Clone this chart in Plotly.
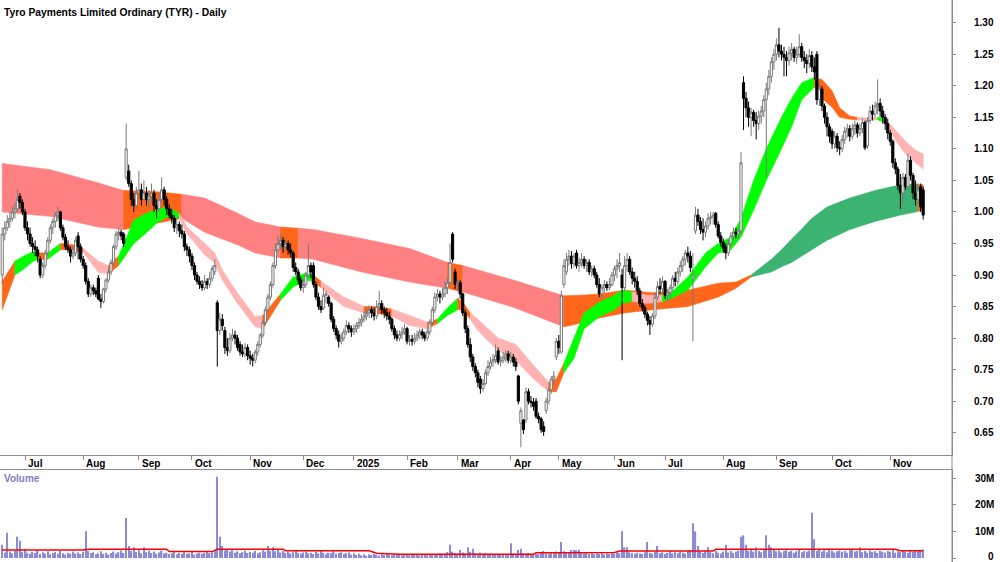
import pandas as pd
import plotly.graph_objects as go

# ---------------- data ----------------
holidays = ["2024-12-25", "2024-12-26", "2025-01-01", "2025-01-27",
            "2025-04-18", "2025-04-21", "2025-04-25", "2025-06-09"]
dates = pd.bdate_range("2024-06-18", "2025-11-20", freq="C", holidays=holidays)

opens = [
 .900,.965,.975,.985,.990,1.000,1.005,1.025,1.015,1.000,
 .975,.965,.950,.945,.940,.925,.900,.915,.935,.955,
 .975,.985,.995,1.000,.975,.960,.945,.940,.930,
 .935,.962,.945,.925,.915,.890,.870,.880,.875,.895,
 .862,.858,.878,.892,.905,.920,.945,.965,.968,.965,
 1.055,1.065,1.045,1.020,1.010,1.030,1.035,1.020,1.030,1.020,
 1.025,1.030,1.010,1.005,1.020,1.035,1.020,1.005,.995,.990,
 .975,.980,.970,
 .965,.945,.940,.930,.915,.900,
 .890,.885,.880,.890,.885,.895,.905,.856,.812,.830,
 .812,.785,.780,.800,.805,.800,.790,.778,.775,.785,
 .772,.768,.765,.778,.790,.805,.825,.845,.865,.885,
 .915,.940,.950,.955,.945,.950,
 .940,.935,.912,
 .905,.892,.880,.885,.900,.915,.915,.885,.865,.850,
 .848,.868,.865,.855,.830,.815,.805,.795,.800,.810,
 .820,.815,.810,.815,.820,.825,.830,.835,.840,.845,
 .840,.835,.850,.855,.845,.840,.835,.830,.815,.805,
 .800,.806,.810,.815,.795,.798,.795,.800,.805,
 .810,.805,.800,.810,.825,.845,.865,.870,.865,.870,
 .880,.888,.965,.905,.885,.888,.870,.840,.815,.790,
 .770,.755,.745,.735,.720,.728,.745,.755,.762,.766,
 .780,.762,
 .765,.770,.775,.765,.770,.762,.740,
 .665,.670,.670,.715,.700,.698,.700,.676,.672,.660,
 .685,.700,.718,.735,.770,.795,.778,.885,.905,.925,
 .930,.918,.935,.915,.920,.925,.915,.920,.905,.910,
 .900,.885,.870,.880,.885,
 .880,.885,.900,.910,
 .915,.900,.880,.915,.925,.905,.895,.890,.875,.855,
 .848,.838,.828,.822,.835,.865,.882,.878,.890,.868,
 .872,.880,.895,.890,.905,.915,.925,.935,.930,.895,
 .970,.995,.985,.972,.968,.978,.990,
 .992,.998,
 .980,.962,.952,.945,.935,.950,.962,.968,.965,.970,
 1.205,1.180,1.165,1.150,1.158,1.145,1.140,1.152,1.160,1.178,
 1.195,1.215,1.238,1.250,1.265,1.255,1.250,1.245,1.240,1.252,
 1.258,1.245,1.250,1.262,1.245,1.240,1.235,1.248,1.230,1.250,
 1.178,1.195,1.168,1.150,1.135,
 1.128,1.108,1.120,1.102,
 1.100,1.115,1.128,1.132,1.120,1.132,1.138,1.125,1.132,1.142,
 1.105,1.145,1.160,1.155,1.168,1.172,1.160,1.150,1.140,1.125,
 1.112,1.078,1.068,1.042,
 1.030,1.055,1.040,1.082,1.058,1.030,1.020,1.040,1.035]

highs = [
 .975,.985,.995,1.000,1.010,1.015,1.036,1.030,1.020,1.005,
 .985,.975,.960,.955,.945,.930,.920,.940,.960,.980,
 .990,1.000,1.008,1.002,.980,.965,.955,.945,.945,
 .960,.968,.950,.930,.920,.895,.885,.885,.880,.900,
 .870,.880,.895,.910,.925,.948,.970,.975,.972,.968,
 1.140,1.075,1.050,1.030,1.040,1.065,1.045,1.050,1.040,1.035,
 1.045,1.035,1.020,1.030,1.055,1.040,1.025,1.012,1.005,.995,
 .990,.985,.980,
 .970,.950,.945,.935,.920,.905,
 .898,.892,.900,.895,.905,.915,.925,.860,.840,.838,
 .818,.800,.808,.815,.812,.805,.795,.790,.792,.790,
 .780,.775,.782,.795,.808,.830,.850,.870,.890,.920,
 .950,.962,.965,.960,.958,.955,
 .950,.938,.920,
 .910,.898,.895,.905,.950,.920,.920,.890,.872,.860,
 .880,.875,.868,.858,.835,.820,.812,.808,.815,.828,
 .825,.820,.822,.825,.832,.838,.842,.848,.852,.850,
 .848,.860,.875,.860,.850,.848,.842,.833,.820,.812,
 .812,.818,.822,.818,.805,.805,.808,.812,.815,
 .815,.810,.815,.830,.850,.872,.878,.875,.880,.890,
 .895,.950,.968,.910,.895,.892,.872,.845,.820,.800,
 .775,.760,.750,.740,.735,.750,.765,.770,.775,.790,
 .785,.772,
 .778,.780,.780,.778,.775,.768,.742,
 .690,.672,.722,.720,.708,.705,.705,.682,.675,.668,
 .705,.722,.740,.748,.800,.805,.875,.925,.935,.940,
 .938,.935,.940,.928,.935,.930,.925,.925,.915,.915,
 .905,.895,.885,.892,.890,
 .895,.905,.915,.925,
 .935,.910,.930,.935,.930,.912,.905,.898,.880,.862,
 .852,.842,.835,.840,.872,.890,.895,.898,.892,.878,
 .885,.900,.905,.912,.922,.930,.940,.945,.938,.935,
 1.008,1.005,.992,.990,.985,.998,1.000,
 1.000,1.000,
 .985,.968,.958,.950,.955,.968,.975,.975,.975,1.095,
 1.215,1.190,1.175,1.165,1.162,1.158,1.160,1.168,1.185,1.205,
 1.225,1.245,1.258,1.275,1.292,1.265,1.262,1.255,1.262,1.268,
 1.262,1.262,1.282,1.268,1.255,1.250,1.258,1.255,1.245,1.255,
 1.205,1.200,1.172,1.158,1.140,
 1.132,1.128,1.125,1.112,
 1.122,1.135,1.140,1.138,1.140,1.145,1.142,1.140,1.148,1.145,
 1.150,1.168,1.170,1.175,1.210,1.180,1.168,1.155,1.148,1.130,
 1.115,1.085,1.072,1.060,
 1.062,1.060,1.092,1.088,1.062,1.050,1.045,1.045,1.040]

lows = [
 .885,.955,.970,.975,.985,.990,1.000,1.005,.995,.970,
 .955,.945,.935,.930,.920,.895,.895,.910,.930,.950,
 .965,.975,.985,.970,.955,.940,.935,.920,.925,
 .930,.925,.920,.910,.885,.865,.865,.868,.865,.860,
 .848,.855,.872,.888,.900,.915,.940,.955,.955,.945,
 1.050,1.040,1.010,1.000,1.005,1.025,1.010,1.015,1.010,1.005,
 1.015,1.000,.990,1.000,1.015,1.010,.995,.990,.982,.968,
 .965,.960,.958,
 .938,.930,.920,.908,.892,.885,
 .878,.875,.876,.878,.880,.890,.900,.755,.805,.812,
 .775,.772,.776,.795,.790,.780,.772,.770,.770,.765,
 .758,.755,.760,.772,.785,.800,.820,.840,.860,.880,
 .910,.935,.940,.935,.938,.932,
 .928,.905,.900,
 .885,.875,.872,.880,.895,.895,.880,.860,.845,.840,
 .845,.855,.850,.825,.810,.798,.785,.790,.795,.805,
 .808,.802,.805,.808,.815,.818,.825,.828,.832,.832,
 .828,.830,.845,.838,.832,.828,.822,.810,.798,.795,
 .795,.798,.805,.790,.788,.788,.790,.795,.798,
 .798,.795,.796,.805,.820,.840,.858,.855,.860,.865,
 .870,.885,.920,.878,.875,.862,.835,.808,.785,.762,
 .748,.738,.722,.712,.715,.725,.740,.750,.755,.760,
 .758,.755,
 .760,.762,.760,.760,.755,.748,.695,
 .627,.648,.665,.695,.690,.685,.672,.665,.650,.645,
 .680,.695,.712,.725,.765,.775,.775,.880,.900,.915,
 .910,.912,.910,.905,.912,.910,.905,.900,.898,.895,
 .880,.865,.862,.872,.875,
 .876,.882,.890,.895,
 .905,.765,.875,.905,.900,.885,.880,.868,.850,.842,
 .832,.820,.805,.818,.830,.860,.870,.872,.862,.858,
 .862,.875,.882,.885,.898,.905,.915,.920,.905,.795,
 .965,.978,.965,.955,.960,.972,.980,
 .980,.975,
 .958,.945,.935,.925,.930,.945,.955,.958,.958,.965,
 1.130,1.150,1.135,1.120,1.135,1.115,1.130,1.140,1.150,1.055,
 1.185,1.205,1.225,1.240,1.245,1.240,1.215,1.215,1.232,1.240,
 1.238,1.235,1.245,1.238,1.228,1.220,1.228,1.222,1.210,1.170,
 1.168,1.160,1.140,1.120,1.110,
 1.100,1.100,1.095,1.090,
 1.095,1.108,1.118,1.112,1.115,1.122,1.118,1.120,1.125,1.098,
 1.100,1.140,1.145,1.150,1.155,1.150,1.140,1.130,1.115,1.105,
 1.070,1.060,1.035,1.005,
 1.015,1.035,1.035,1.050,1.020,1.010,1.012,1.000,.988]

closes = [
 .965,.975,.985,.990,1.000,1.005,1.020,1.015,1.000,.975,
 .965,.950,.945,.940,.930,.900,.915,.935,.955,.975,
 .985,.995,1.000,.975,.960,.945,.940,.930,.935,
 .955,.945,.925,.915,.890,.870,.880,.875,.870,.862,
 .858,.878,.892,.905,.920,.945,.965,.968,.962,.950,
 1.100,1.045,1.020,1.010,1.030,1.035,1.020,1.030,1.020,1.025,
 1.030,1.010,1.005,1.020,1.035,1.020,1.005,.995,.990,.975,
 .980,.970,.965,
 .945,.940,.930,.915,.900,.890,
 .885,.880,.890,.885,.895,.910,.915,.812,.830,.820,
 .785,.780,.800,.805,.800,.785,.778,.775,.785,.772,
 .768,.765,.778,.790,.805,.825,.845,.865,.885,.915,
 .940,.950,.955,.945,.950,.940,
 .935,.912,.905,
 .892,.880,.885,.900,.915,.905,.885,.865,.850,.845,
 .868,.870,.855,.830,.815,.805,.795,.800,.810,.820,
 .815,.810,.815,.820,.825,.830,.835,.840,.845,.840,
 .835,.850,.855,.845,.840,.835,.830,.815,.805,.800,
 .806,.810,.815,.795,.798,.795,.800,.805,.810,
 .805,.800,.810,.825,.845,.865,.870,.865,.870,.880,
 .888,.920,.925,.885,.888,.870,.840,.815,.790,.770,
 .755,.745,.730,.720,.728,.745,.755,.762,.766,.772,
 .762,.765,
 .770,.775,.765,.770,.762,.755,.700,
 .685,.655,.715,.700,.698,.692,.676,.672,.655,.652,
 .700,.718,.735,.740,.795,.785,.868,.915,.925,.930,
 .918,.930,.915,.920,.925,.915,.920,.905,.910,.900,
 .885,.870,.880,.885,.880,
 .885,.900,.910,.915,
 .920,.880,.915,.925,.905,.895,.890,.875,.855,.848,
 .838,.828,.822,.835,.865,.882,.878,.890,.868,.872,
 .880,.895,.890,.905,.915,.925,.935,.930,.912,.900,
 .995,.985,.972,.968,.978,.990,.992,
 .995,.980,
 .962,.952,.942,.935,.950,.962,.968,.965,.970,1.078,
 1.180,1.165,1.150,1.158,1.145,1.140,1.152,1.160,1.178,1.195,
 1.215,1.238,1.250,1.265,1.255,1.250,1.245,1.240,1.252,1.258,
 1.245,1.250,1.262,1.245,1.240,1.235,1.248,1.230,1.222,1.178,
 1.195,1.168,1.150,1.135,1.120,
 1.108,1.120,1.102,1.100,
 1.115,1.128,1.132,1.120,1.132,1.138,1.125,1.132,1.142,1.102,
 1.145,1.160,1.155,1.168,1.172,1.160,1.150,1.140,1.125,1.112,
 1.078,1.068,1.042,1.030,
 1.055,1.040,1.082,1.058,1.030,1.020,1.035,1.008,.995]

volume_m = [
 5.0,2.1,9.5,2.4,1.8,2.6,8.0,6.5,2.2,3.5,
 2.0,1.6,2.3,1.9,2.8,1.5,2.2,1.7,2.5,1.4,
 1.9,2.2,1.6,2.7,1.8,1.3,2.0,1.6,2.4,1.7,
 2.1,1.5,2.3,10.0,2.6,1.9,2.2,1.4,1.8,2.5,
 1.6,2.0,1.3,1.9,2.4,1.7,2.2,2.8,1.9,15.0,
 4.5,2.6,4.0,2.3,2.9,1.8,4.0,2.2,2.7,1.9,
 2.4,1.6,2.1,2.8,1.7,2.0,1.5,1.8,2.3,1.4,
 1.9,1.6,2.2,1.5,1.8,2.4,1.3,1.7,2.0,1.6,
 1.9,2.6,1.8,2.2,2.9,30.5,8.0,4.5,2.8,3.1,
 2.4,2.9,2.0,2.5,1.8,2.2,2.7,1.9,2.3,2.0,
 2.6,1.8,2.2,2.9,2.4,4.5,2.7,4.0,2.5,3.2,
 2.1,2.6,1.9,2.3,1.7,2.2,2.8,1.9,1.6,2.1,
 2.4,1.8,2.0,1.5,2.3,1.7,2.6,1.9,1.4,2.0,
 1.8,2.5,1.6,1.9,2.2,1.5,1.8,2.1,1.3,1.7,
 1.2,1.6,1.0,1.4,0.8,1.3,1.1,1.5,1.2,0.9,
 1.4,1.1,1.6,1.2,1.0,1.3,1.5,1.1,0.9,1.4,
 1.2,1.0,1.5,1.3,1.1,0.9,1.4,1.2,1.0,1.3,
 1.1,1.5,1.2,1.8,1.4,1.6,2.2,5.0,2.4,1.9,
 1.6,3.0,2.1,1.7,4.0,2.3,3.5,1.8,1.5,2.0,
 1.4,1.7,1.2,1.6,1.3,1.1,1.5,1.2,1.4,1.0,
 1.3,5.5,1.6,1.4,3.0,3.5,1.7,1.3,1.9,1.5,
 1.2,1.6,1.4,2.0,2.6,1.8,1.5,2.2,1.7,2.4,
 1.9,6.0,2.5,1.8,2.2,3.0,3.0,2.9,3.1,2.0,
 1.7,2.3,1.5,1.9,1.4,1.8,1.6,2.1,1.3,1.7,
 1.5,1.9,1.6,2.2,1.8,10.0,4.0,4.0,2.1,1.8,
 1.6,2.0,1.7,1.5,2.2,6.0,1.9,1.6,2.3,4.5,
 1.8,2.1,1.5,1.9,2.6,1.7,2.2,1.8,2.4,2.0,
 1.6,2.5,2.9,13.0,10.0,4.5,2.3,1.9,2.6,4.0,
 2.2,1.8,2.7,2.0,1.7,2.4,5.0,2.1,2.6,1.9,
 2.3,2.8,8.0,8.5,5.0,2.7,3.1,2.4,4.0,2.6,
 2.2,2.9,8.5,5.0,4.0,3.2,2.5,2.8,2.1,2.6,
 2.9,2.3,2.7,2.0,2.5,3.0,2.2,2.6,2.4,2.8,
 17.0,7.0,2.6,3.1,2.4,2.9,2.2,3.5,2.7,2.1,
 2.5,2.8,2.3,2.6,2.0,2.9,3.5,2.4,2.7,4.0,
 2.2,2.6,2.0,2.8,2.3,2.5,1.9,2.7,2.4,2.1,
 2.6,2.3,2.9,2.0,2.5,2.2,2.8,2.4,1.9,2.6,
 2.3,2.7,2.5,3.0,3.2]

# volume moving average, trading-day number -> millions
vol_ma_day = [0, 32, 34, 65, 66, 83, 85, 111, 112, 145, 148, 157, 210, 211, 242, 244, 281, 282, 319, 353, 355, 364]
vol_ma_m = [3.0, 3.0, 3.3, 3.3, 2.4, 2.4, 3.3, 3.3, 2.75, 2.75, 1.75, 1.4, 1.4, 2.0, 2.1, 2.6, 2.6, 3.25, 3.3, 3.3, 2.75, 2.75]

# long-term moving-average ribbon (trading-day number, top, bottom, state)
long_day = [0, 19, 38, 48, 61, 71, 80, 93, 100, 110, 117, 123, 142, 161, 176, 182, 202, 222, 229, 236,
            246, 257, 271, 283, 290, 296, 304, 308, 312, 316, 320, 326, 335, 345, 355, 360, 362, 364]
long_top = [1.077, 1.067, 1.046, 1.034, 1.032, 1.028, 1.022, 0.998, 0.984, 0.976, 0.974, 0.972, 0.958, 0.942,
            0.920, 0.915, 0.892, 0.867, 0.868, 0.870, 0.876, 0.872, 0.876, 0.887, 0.889, 0.900, 0.925, 0.940,
            0.957, 0.973, 0.990, 1.008, 1.022, 1.034, 1.043, 1.044, 1.044, 1.043]
long_bot = [1.000, 0.993, 0.976, 0.972, 0.982, 0.990, 0.968, 0.948, 0.935, 0.927, 0.927, 0.925, 0.905, 0.889,
            0.879, 0.873, 0.849, 0.818, 0.824, 0.832, 0.840, 0.845, 0.850, 0.865, 0.879, 0.897, 0.905, 0.913,
            0.920, 0.930, 0.940, 0.955, 0.972, 0.985, 0.995, 0.999, 1.001, 1.003]
long_state = ["R", "R", "R", "O", "O", "R", "R", "R", "R", "O", "R", "R", "R", "R", "O", "R", "R", "O", "O", "O",
              "O", "O", "O", "O", "O", "G", "G", "G", "G", "G", "G", "G", "G", "G", "G", "G", "O", "O"]

# short-term moving-average ribbon
short_day = [0, 5, 8, 12, 14, 18, 23, 28, 32, 38, 42, 46, 52, 57, 61, 65, 70, 73, 80, 84,
             87, 93, 100, 103, 110, 115, 120, 123, 126, 135, 143, 147, 154, 161, 168, 172, 176, 180, 182, 185,
             188, 196, 203, 210, 216, 219, 222, 226, 230, 236, 242, 245, 249, 255, 261, 264, 271, 278, 283, 288,
             292, 297, 302, 308, 312, 316, 321, 324, 328, 331, 335, 338, 342, 346, 349, 353, 357, 361, 364]
short_top = [0.890, 0.922, 0.929, 0.937, 0.935, 0.935, 0.950, 0.948, 0.942, 0.922,
             0.915, 0.930, 0.987, 0.998, 1.003, 1.008, 0.998, 0.976, 0.950, 0.935,
             0.908, 0.871, 0.834, 0.836, 0.870, 0.897, 0.903, 0.900, 0.890, 0.865,
             0.850, 0.850, 0.846, 0.836, 0.825, 0.830, 0.848, 0.863, 0.857, 0.840,
             0.830, 0.800, 0.790, 0.757, 0.730, 0.735, 0.760, 0.800, 0.840, 0.857,
             0.868, 0.876, 0.873, 0.868, 0.868, 0.871, 0.897, 0.935, 0.950, 0.960,
             0.990, 1.050, 1.100, 1.150, 1.180, 1.205, 1.213, 1.210, 1.192, 1.165,
             1.152, 1.150, 1.149, 1.150, 1.147, 1.130, 1.112, 1.098, 1.092]
short_bot = [0.845, 0.900, 0.908, 0.921, 0.925, 0.925, 0.940, 0.940, 0.936, 0.904,
             0.902, 0.915, 0.950, 0.967, 0.982, 0.992, 0.990, 0.966, 0.932, 0.919,
             0.892, 0.855, 0.818, 0.815, 0.860, 0.881, 0.892, 0.890, 0.880, 0.850,
             0.840, 0.840, 0.835, 0.820, 0.815, 0.823, 0.836, 0.845, 0.845, 0.830,
             0.812, 0.780, 0.765, 0.735, 0.715, 0.715, 0.745, 0.768, 0.815, 0.834,
             0.845, 0.855, 0.858, 0.855, 0.858, 0.862, 0.876, 0.913, 0.935, 0.940,
             0.960, 1.003, 1.050, 1.100, 1.135, 1.178, 1.198, 1.180, 1.166, 1.150,
             1.147, 1.146, 1.145, 1.146, 1.142, 1.114, 1.092, 1.078, 1.068]
short_state = ["O", "G", "G", "G", "O", "G", "O", "O", "R", "R",
               "O", "G", "G", "G", "G", "G", "R", "R", "R", "R",
               "R", "R", "R", "O", "G", "G", "G", "O", "R", "R",
               "O", "O", "R", "R", "O", "G", "G", "O", "O", "R",
               "R", "R", "R", "R", "O", "O", "G", "G", "G", "G",
               "G", "G", "R", "R", "G", "G", "G", "G", "G", "G",
               "G", "G", "G", "G", "G", "G", "O", "O", "O", "O",
               "O", "R", "R", "G", "R", "R", "R", "R", "R"]

price_ticks = [0.65, 0.70, 0.75, 0.80, 0.85, 0.90, 0.95, 1.00, 1.05, 1.10, 1.15, 1.20, 1.25, 1.30]
volume_ticks_m = [0, 10, 20, 30]

title = "Tyro Payments Limited Ordinary (TYR) - Daily"

# ---------------- styling ----------------
FONT = "Liberation Sans, Arial, sans-serif"
GREY = "#8c8c8c"
long_colors = {"R": "#ff8080", "G": "#3cb371", "O": "#ff661a"}
short_colors = {"R": "#ffb3b3", "G": "#00ff00", "O": "#ff661a"}

n = len(dates)
xs = list(range(n))
hover = [d.strftime("%d %b %Y") for d in dates]

fig = go.Figure()

fig.add_trace(go.Candlestick(
    x=xs, open=opens, high=highs, low=lows, close=closes,
    increasing=dict(line=dict(color="#7a7a7a", width=1), fillcolor="#ffffff"),
    decreasing=dict(line=dict(color="#000000", width=1), fillcolor="#000000"),
    whiskerwidth=0, text=hover, hoverinfo="text+y", showlegend=False,
    xaxis="x", yaxis="y"))

fig.add_trace(go.Bar(
    x=xs, y=volume_m, marker=dict(color="#8c8cd6", line=dict(width=0)),
    hoverinfo="skip", showlegend=False, xaxis="x2", yaxis="y2"))

fig.add_trace(go.Scatter(
    x=vol_ma_day, y=vol_ma_m, mode="lines", line=dict(color="#ff0000", width=1.5),
    hoverinfo="skip", showlegend=False, xaxis="x2", yaxis="y2"))


def ribbon_shapes(days, top, bot, state, colors):
    shapes = []
    s = 0
    m = len(days)
    while s < m - 1:
        e = s
        while e + 1 < m - 1 and state[e + 1] == state[s]:
            e += 1
        ks = list(range(s, e + 2))
        pts = [(days[k], top[k]) for k in ks] + [(days[k], bot[k]) for k in reversed(ks)]
        path = "M " + " L ".join(f"{px},{py}" for px, py in pts) + " Z"
        col = colors[state[s]]
        shapes.append(dict(type="path", path=path, xref="x", yref="y", fillcolor=col,
                           line=dict(color=col, width=0.6), layer="below"))
        s = e + 1
    return shapes


shapes = ribbon_shapes(long_day, long_top, long_bot, long_state, long_colors)
shapes += ribbon_shapes(short_day, short_top, short_bot, short_state, short_colors)
shapes.append(dict(type="line", xref="paper", yref="paper", x0=1, x1=1, y0=0, y1=1,
                   line=dict(color=GREY, width=1)))

# month ticks
tickvals, ticktext = [], []
for k in range(1, n):
    if dates[k].month != dates[k - 1].month:
        tickvals.append(k)
        ticktext.append("2025" if dates[k].month == 1 else dates[k].strftime("%b"))

annotations = []
lab_font = dict(family=FONT, size=10, color="#000000", weight="bold")
for tv, tt in zip(tickvals, ticktext):
    annotations.append(dict(x=tv, xref="x", y=(562 - 463) / 562, yref="paper", text=tt,
                            showarrow=False, xanchor="left", yanchor="middle", xshift=1, font=lab_font))
for pv in price_ticks:
    annotations.append(dict(x=1, xref="paper", y=pv, yref="y", text=f"{pv:.2f}", showarrow=False,
                            xanchor="right", yanchor="middle", xshift=44, font=lab_font))
for vv in volume_ticks_m:
    annotations.append(dict(x=1, xref="paper", y=vv, yref="y2", text=("0" if vv == 0 else f"{vv}M"),
                            showarrow=False, xanchor="right", yanchor="middle", xshift=44,
                            yshift=(2 if vv == 0 else 0), font=lab_font))
annotations.append(dict(x=0, xref="paper", y=(562 - 13) / 562, yref="paper", text=title, showarrow=False,
                        xanchor="left", yanchor="middle", xshift=2,
                        font=dict(family=FONT, size=10.3, color="#000000", weight="bold")))
annotations.append(dict(x=0, xref="paper", y=(562 - 478) / 562, yref="paper", text="Volume", showarrow=False,
                        xanchor="left", yanchor="middle", xshift=2,
                        font=dict(family=FONT, size=10, color="#8080c0", weight="bold")))

xr = [-0.88, 375.4]
fig.update_layout(
    width=1000, height=562, margin=dict(l=0, r=48, t=0, b=0),
    paper_bgcolor="white", plot_bgcolor="white", showlegend=False, bargap=0.45,
    boxgap=0.15, boxgroupgap=0,
    font=dict(family=FONT, size=10, color="#000000"),
    xaxis=dict(domain=[0, 1], range=xr, anchor="y", showgrid=False, zeroline=False,
               showline=True, linecolor=GREY, linewidth=1, ticks="outside", ticklen=4,
               tickcolor=GREY, tickvals=tickvals, showticklabels=False,
               rangeslider=dict(visible=False), fixedrange=True),
    xaxis2=dict(domain=[0, 1], range=xr, anchor="y2", side="top", showgrid=False, zeroline=False,
                showline=True, linecolor=GREY, linewidth=1, ticks="", showticklabels=False),
    yaxis=dict(domain=[107 / 562, 1], range=[0.6147, 1.336], side="right", anchor="x",
               showgrid=False, zeroline=False, showline=True, linecolor=GREY, linewidth=1,
               ticks="outside", ticklen=3, tickcolor=GREY, tickvals=price_ticks, showticklabels=False),
    yaxis2=dict(domain=[0, 92 / 562], range=[-1.5, 33], side="right", anchor="x2",
                showgrid=False, zeroline=False, showline=True, linecolor=GREY, linewidth=1,
                ticks="outside", ticklen=3, tickcolor=GREY, tickvals=volume_ticks_m, showticklabels=False),
    shapes=shapes, annotations=annotations,
)

fig.write_html("out.html")
